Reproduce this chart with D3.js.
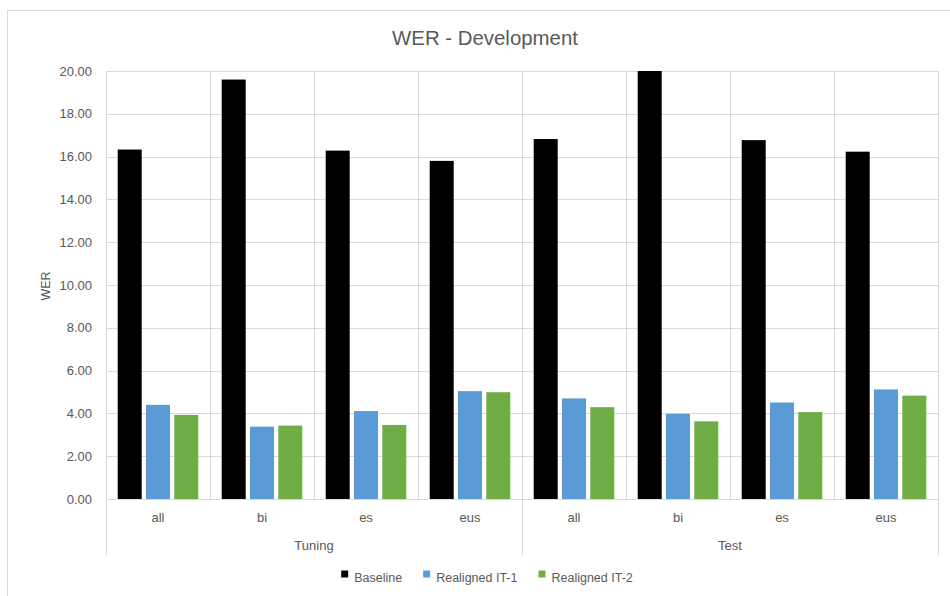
<!DOCTYPE html>
<html>
<head>
<meta charset="utf-8">
<script src="https://cdn.jsdelivr.net/npm/d3@7"></script>
<style>
  html, body { margin: 0; padding: 0; background: #fff; }
  svg { display: block; font-family: "Liberation Sans", Arial, sans-serif; }
</style>
</head>
<body>
<svg id="chart" width="950" height="596"></svg>
<script>
// ---- data ----
const groups = ["Tuning", "Test"];
const subcategories = ["all", "bi", "es", "eus"];
const seriesNames = ["Baseline", "Realigned IT-1", "Realigned IT-2"];
const baseline   = [16.33, 19.60, 16.28, 15.80, 16.82, 20.00, 16.77, 16.23];
const realigned1 = [4.40, 3.38, 4.11, 5.04, 4.70, 3.98, 4.51, 5.12];
const realigned2 = [3.93, 3.43, 3.46, 4.99, 4.29, 3.63, 4.06, 4.83];
const yTicks = [0, 2, 4, 6, 8, 10, 12, 14, 16, 18, 20];
const colors = ["#000000", "#5B9BD5", "#70AD47"];

(function () {
const seriesValues = [baseline, realigned1, realigned2];
const categories = [];
groups.forEach(g => subcategories.forEach(s => categories.push(g + "|" + s)));

const svg = d3.select("#chart");
const pLeft = 106, pRight = 938, pTop = 71, pBottom = 499;
const textColor = "#595959", gridColor = "#D9D9D9";

// chart border
svg.append("rect").attr("x", 7.5).attr("y", 10.5).attr("width", 960).attr("height", 600)
  .attr("fill", "#fff").attr("stroke", gridColor).attr("stroke-width", 1);

const x = d3.scaleBand().domain(categories).range([pLeft, pRight]).padding(0);
const xInner = d3.scaleBand().domain(seriesNames).range([0, x.bandwidth()])
  .paddingInner(0.152).paddingOuter(0.414);
const y = d3.scaleLinear().domain([0, 20]).range([pBottom, pTop]);

// horizontal gridlines
svg.append("g").selectAll("line").data(yTicks).join("line")
  .attr("x1", pLeft).attr("x2", pRight)
  .attr("y1", d => Math.round(y(d)) + 0.5).attr("y2", d => Math.round(y(d)) + 0.5)
  .attr("stroke", gridColor).attr("stroke-width", 1);

// vertical category gridlines
const boundaries = categories.map(c => x(c)).concat([pRight]);
svg.append("g").selectAll("line").data(boundaries).join("line")
  .attr("x1", d => Math.round(d) + 0.5).attr("x2", d => Math.round(d) + 0.5)
  .attr("y1", pTop).attr("y2", pBottom)
  .attr("stroke", gridColor).attr("stroke-width", 1);

// group separators below axis
const groupEdges = [pLeft, x(categories[subcategories.length]), pRight];
svg.append("g").selectAll("line").data(groupEdges).join("line")
  .attr("x1", d => Math.round(d) + 0.5).attr("x2", d => Math.round(d) + 0.5)
  .attr("y1", pBottom).attr("y2", 555)
  .attr("stroke", gridColor).attr("stroke-width", 1);

// y-axis (labels only)
const yAxis = d3.axisLeft(y).tickValues(yTicks).tickFormat(d3.format(".2f")).tickSize(0).tickPadding(14);
const yg = svg.append("g").attr("transform", `translate(${pLeft},0)`).call(yAxis);
yg.select(".domain").remove();
yg.selectAll("text").attr("fill", textColor).attr("font-size", 13)
  .attr("font-family", '"Liberation Sans", Arial, sans-serif');

// bars
const barData = [];
categories.forEach((c, i) => seriesNames.forEach((s, j) => barData.push({ c, s, j, v: seriesValues[j][i] })));
svg.append("g").selectAll("rect").data(barData).join("rect")
  .attr("x", d => x(d.c) + xInner(d.s))
  .attr("width", xInner.bandwidth())
  .attr("y", d => y(d.v))
  .attr("height", d => y(0) - y(d.v))
  .attr("fill", d => colors[d.j]);

// axis baseline
svg.append("line").attr("x1", pLeft).attr("x2", pRight)
  .attr("y1", pBottom + 0.5).attr("y2", pBottom + 0.5)
  .attr("stroke", gridColor).attr("stroke-width", 1);

// category labels
svg.append("g").selectAll("text").data(categories).join("text")
  .attr("x", d => x(d) + x.bandwidth() / 2)
  .attr("y", 522)
  .attr("text-anchor", "middle").attr("fill", textColor).attr("font-size", 13)
  .text(d => d.split("|")[1]);

// group labels
svg.append("g").selectAll("text").data(groups).join("text")
  .attr("x", (d, i) => (groupEdges[i] + groupEdges[i + 1]) / 2)
  .attr("y", 550)
  .attr("text-anchor", "middle").attr("fill", textColor).attr("font-size", 13)
  .text(d => d);

// title
svg.append("text").attr("x", 485).attr("y", 45).attr("text-anchor", "middle")
  .attr("fill", textColor).attr("font-size", 20.4).text("WER - Development");

// y-axis title
svg.append("text").attr("transform", "translate(50,286) rotate(-90)")
  .attr("text-anchor", "middle").attr("fill", textColor).attr("font-size", 12.5).text("WER");

// legend
const lg = svg.append("g");
const items = lg.selectAll("g").data(seriesNames).join("g");
items.append("rect").attr("width", 7).attr("height", 7).attr("y", -7.5)
  .attr("fill", (d, i) => colors[i]);
items.append("text").attr("x", 13).attr("y", 0).attr("dy", "0.35em").attr("fill", textColor)
  .attr("font-size", 12.5).text(d => d);
let cursor = 0;
const widths = [];
items.each(function () {
  const w = 13 + d3.select(this).select("text").node().getComputedTextLength();
  widths.push(w);
});
items.attr("transform", (d, i) => {
  const pos = cursor; cursor += widths[i] + 21; return `translate(${pos},0)`;
});
const total = cursor - 21;
lg.attr("transform", `translate(${487 - total / 2},578)`);
})();
</script>
</body>
</html>
